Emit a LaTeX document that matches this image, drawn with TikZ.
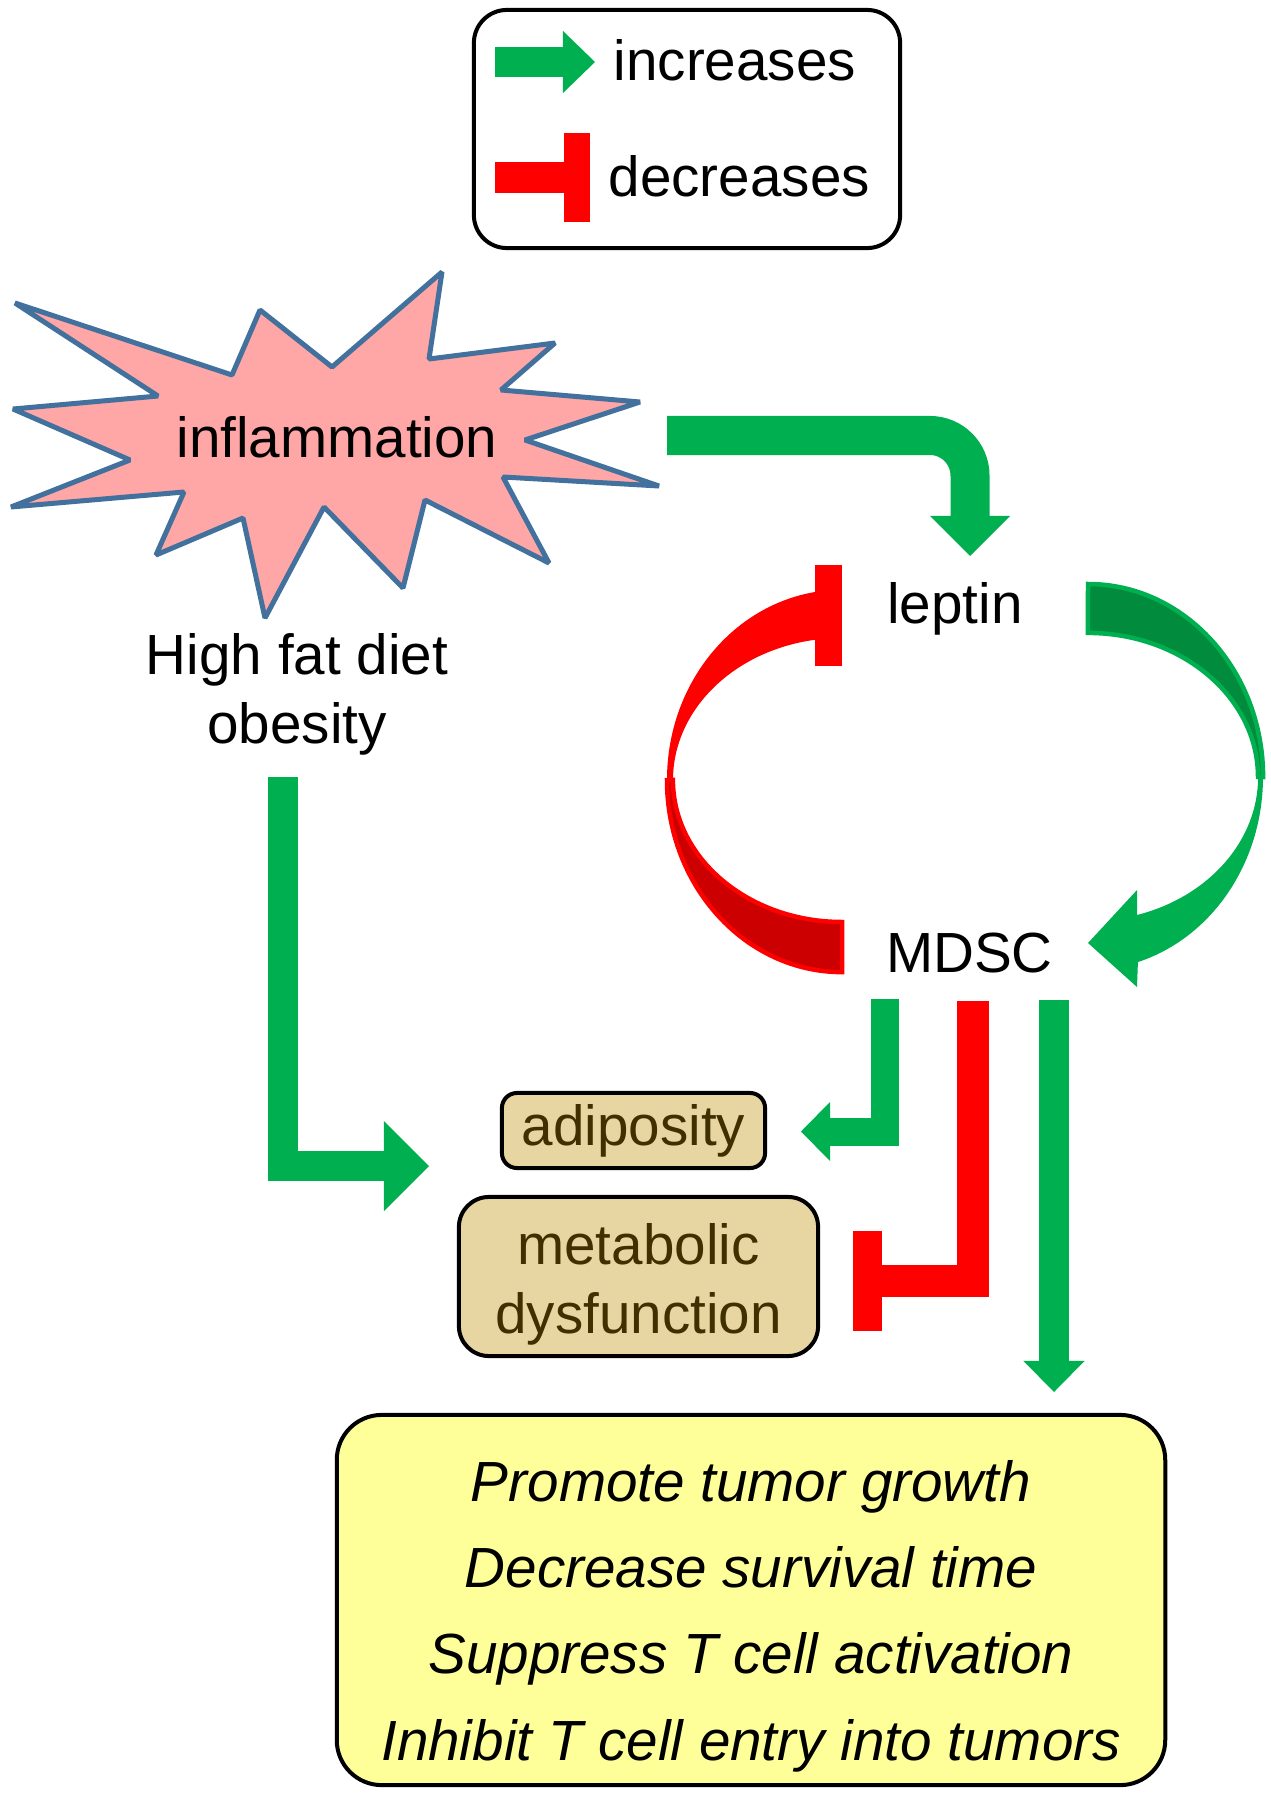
\documentclass[tikz,border=0pt]{standalone}
\usepackage{fontspec}
\setmainfont{Liberation Sans}
\usetikzlibrary{arrows.meta}

\definecolor{grn}{RGB}{0,176,80}
\definecolor{grndark}{RGB}{0,140,60}
\definecolor{rd}{RGB}{255,0,0}
\definecolor{rddark}{RGB}{204,0,0}
\definecolor{burstfill}{RGB}{255,166,166}
\definecolor{burstline}{RGB}{65,113,156}
\definecolor{tan}{RGB}{232,214,162}
\definecolor{tantext}{RGB}{64,48,0}
\definecolor{paleyellow}{RGB}{255,255,153}

\begin{document}
\begin{tikzpicture}[x=0.01cm,y=-0.01cm,
    font=\fontsize{16.1pt}{19.6pt}\selectfont,
    txt/.style={inner sep=0pt,anchor=base},
    upar/.style n args={3}{draw=grn,line width=#1,-{Triangle[width=#2,length=#3,line width=0pt]}},
    downbar/.style n args={3}{draw=rd,line width=#1,-{Rectangle[width=#2,length=#3,line width=0pt]}},
    tanbox/.style={draw=black,line width=0.04cm,fill=tan,rounded corners=#1,text=tantext,align=center,inner sep=0pt}]
  \useasboundingbox (0,0) rectangle (1271,1800);

  % legend
  \node[draw,line width=0.04cm,rounded corners=0.33cm,minimum width=4.26cm,minimum height=2.38cm] (legend) at (687,129) {};
  \node[txt,anchor=base west] (inc) at (613,81) {increases};
  \node[txt,anchor=base west] (dec) at (608,197) {decreases};
  \coordinate (inc-a) at (495,62);   \coordinate (inc-b) at (595,62);
  \coordinate (dec-a) at (495,177.5); \coordinate (dec-b) at (590,177.5);
  \draw[upar={0.30cm}{0.62cm}{0.32cm}] (inc-a) -- (inc-b);
  \draw[downbar={0.31cm}{0.89cm}{0.26cm}] (dec-a) -- (dec-b);

  % inflammation burst
  \draw[line width=0.05cm,line join=bevel,draw=burstline,fill=burstfill]
    (15,303) -- (232,375) -- (260,310) -- (332,367) -- (442,272) -- (429,359)
    -- (555,343) -- (501,390) -- (640,402) -- (525,440) -- (659,486) -- (503,477)
    -- (549,563) -- (425,500) -- (403,588) -- (324,507) -- (265,618) -- (243,518)
    -- (156,555) -- (184,492) -- (11,507) -- (130,460) -- (13,409) -- (158,396) -- cycle;
  \node[txt] (infl) at (337,457) {inflammation};
  \node[txt,align=center] (diet) at (297,743) {High fat diet\\obesity};

  % leptin / MDSC loop
  \node[txt] (leptin) at (955,623) {leptin};
  \node[txt] (mdsc) at (969.5,972) {MDSC};
  \filldraw[fill=grndark,draw=grn,line width=0.045cm]
    (1088,584) arc[start angle=90,end angle=0,x radius=1.75cm,y radius=1.93cm]
    -- (1258,777) arc[start angle=0,end angle=90,x radius=1.70cm,y radius=1.44cm] -- cycle;
  \fill[grn]
    (1263,777) arc[start angle=0,end angle=-73.4,x radius=1.75cm,y radius=1.93cm]
    -- (1137,987) -- (1088,943) -- (1137,890)
    -- (1137,915) arc[start angle=-73.25,end angle=0,x radius=1.70cm,y radius=1.44cm] -- cycle;
  \filldraw[fill=rddark,draw=rd,line width=0.045cm]
    (667,780) arc[start angle=180,end angle=270,x radius=1.75cm,y radius=1.92cm]
    -- (842,922) arc[start angle=270,end angle=180,x radius=1.69cm,y radius=1.42cm] -- cycle;
  \fill[rd]
    (815,592) arc[start angle=98.9,end angle=180,x radius=1.75cm,y radius=1.90cm]
    -- (673,780) arc[start angle=180,end angle=98.9,x radius=1.69cm,y radius=1.42cm] -- cycle;
  \fill[rd] (815,565) rectangle (842,666);

  % arrows
  \coordinate (infl-out) at (667,435.5);
  \coordinate (leptin-in) at (970,556);
  \draw[upar={0.39cm}{0.80cm}{0.40cm},rounded corners=0.40cm] (infl-out) -| (leptin-in);
  \coordinate (diet-out) at (283,777);
  \coordinate (boxes-in) at (429,1166);
  \draw[upar={0.295cm}{0.90cm}{0.45cm}] (diet-out) |- (boxes-in);
  \coordinate (mdsc-a) at (885,999);   \coordinate (adip-in) at (801,1131.5);
  \coordinate (mdsc-b) at (973,1001);  \coordinate (meta-in) at (853,1281);
  \coordinate (mdsc-c) at (1054,1000); \coordinate (effects-in) at (1054,1392);
  \draw[upar={0.28cm}{0.59cm}{0.29cm}] (mdsc-a) |- (adip-in);
  \draw[downbar={0.32cm}{0.99cm}{0.29cm}] (mdsc-b) |- (meta-in);
  \draw[upar={0.30cm}{0.61cm}{0.31cm}] (mdsc-c) -- (effects-in);

  % boxes
  \node[tanbox=0.15cm,minimum width=2.63cm,minimum height=0.75cm] (adip) at (633.5,1130.5) {adiposity};
  \node[tanbox=0.30cm,minimum width=3.59cm,minimum height=1.59cm,text height=1.25cm,text depth=0.12cm] (meta) at (638.5,1276.5) {metabolic\\dysfunction};
  \node[draw,line width=0.04cm,fill=paleyellow,rounded corners=0.45cm,minimum width=8.28cm,minimum height=3.70cm,
        text height=3.32cm,text depth=0.12cm,
        align=center,font=\fontsize{16.1pt}{24.5pt}\selectfont\itshape] (effects) at (751,1600)
    {Promote tumor growth\\Decrease survival time\\Suppress T cell activation\\Inhibit T cell entry into tumors};
\end{tikzpicture}
\end{document}
